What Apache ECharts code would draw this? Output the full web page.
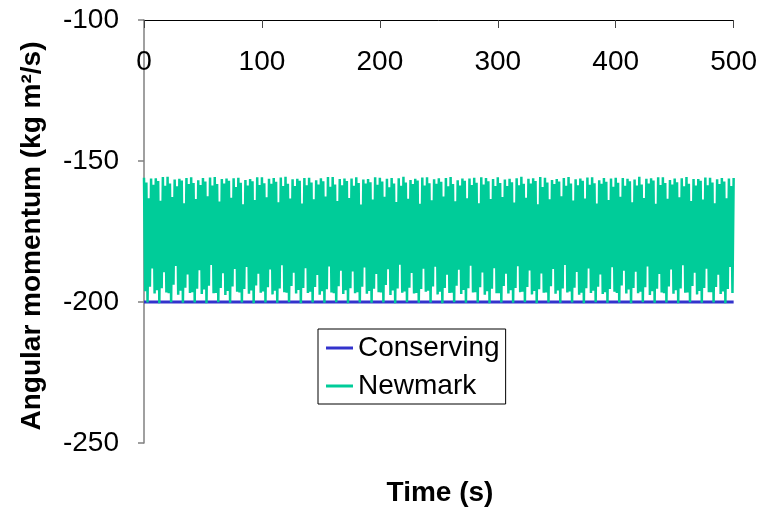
<!DOCTYPE html>
<html>
<head>
<meta charset="utf-8">
<script src="https://cdn.jsdelivr.net/npm/echarts@6/dist/echarts.min.js"></script>
<style>
  html, body { margin: 0; padding: 0; background: #fff; }
  #chart { width: 760px; height: 507px; }
</style>
</head>
<body>
<div id="chart"></div>
<script>
// Angular momentum history of the two integrators, one sample per second.
const xTicks = [0, 100, 200, 300, 400, 500];
const yTicks = [-100, -150, -200, -250];
const seriesNames = ['Conserving', 'Newmark'];

const conservingTime = [0, 500];
const conservingValues = [-200, -200];

const newmarkStep = 1; // seconds between samples
const newmarkValues = [
  -155.9,-196.2,-157.6,-200.2,-163.2,-194.6,-156.2,-188.1,-158.4,-197.0,
  -156.1,-195.8,-157.1,-200.4,-164.1,-195.1,-155.7,-189.4,-158.8,-196.6,
  -155.6,-196.9,-158.0,-200.1,-162.8,-193.9,-156.6,-187.2,-159.0,-197.4,
  -156.3,-196.0,-156.9,-200.3,-165.0,-194.9,-156.0,-190.2,-158.2,-196.8,
  -155.8,-196.5,-157.8,-200.2,-163.5,-195.3,-156.8,-188.7,-158.5,-197.2,
  -156.0,-195.6,-157.3,-200.4,-162.5,-194.2,-155.9,-186.9,-158.7,-196.9,
  -155.7,-196.8,-158.2,-200.1,-164.4,-195.0,-156.4,-189.8,-158.0,-197.5,
  -156.2,-196.1,-157.0,-200.3,-163.0,-194.5,-156.1,-188.3,-159.2,-196.4,
  -155.9,-196.6,-157.7,-200.2,-165.3,-195.4,-156.7,-187.6,-158.7,-197.1,
  -156.4,-195.9,-157.2,-200.4,-163.8,-194.1,-155.8,-190.0,-158.5,-196.7,
  -155.8,-196.3,-157.9,-200.2,-162.9,-194.8,-156.3,-188.5,-158.1,-197.3,
  -156.0,-196.0,-157.4,-200.3,-164.6,-195.2,-155.9,-187.0,-158.9,-196.5,
  -155.6,-196.7,-158.1,-200.1,-163.3,-194.3,-156.5,-189.6,-158.9,-197.0,
  -156.3,-195.7,-157.0,-200.4,-165.1,-195.0,-156.0,-188.0,-158.6,-196.8,
  -155.9,-196.4,-157.6,-200.2,-163.6,-194.7,-156.8,-190.4,-158.3,-197.4,
  -156.1,-196.2,-157.2,-200.3,-162.6,-195.5,-155.7,-187.4,-159.1,-196.6,
  -155.7,-196.9,-158.3,-200.1,-164.2,-194.4,-156.4,-188.9,-158.6,-197.2,
  -156.2,-195.8,-157.1,-200.4,-163.1,-195.1,-156.2,-189.2,-158.8,-196.9,
  -155.8,-196.5,-157.8,-200.2,-165.4,-194.6,-156.6,-187.8,-158.0,-197.1,
  -156.4,-196.1,-157.5,-200.3,-163.7,-195.3,-155.8,-190.1,-158.4,-196.5,
  -155.9,-196.6,-157.3,-200.2,-162.7,-194.0,-156.3,-188.4,-159.3,-197.5,
  -156.0,-195.9,-158.0,-200.4,-164.5,-195.2,-156.1,-186.8,-158.8,-196.7,
  -155.6,-196.3,-157.6,-200.1,-163.4,-194.9,-156.7,-189.7,-158.2,-197.0,
  -156.3,-196.8,-156.9,-200.3,-165.2,-195.4,-155.9,-188.2,-158.7,-196.4,
  -155.8,-196.0,-157.9,-200.2,-163.9,-194.5,-156.5,-187.5,-158.1,-197.3,
  -156.1,-196.4,-157.4,-200.4,-162.6,-195.0,-156.0,-190.3,-159.0,-196.8,
  -155.7,-196.7,-158.2,-200.1,-164.3,-194.2,-156.8,-188.6,-158.7,-197.2,
  -156.2,-195.7,-157.0,-200.3,-163.2,-195.1,-156.2,-187.1,-158.5,-196.6,
  -155.9,-196.5,-157.7,-200.2,-165.0,-194.8,-155.8,-189.5,-158.3,-197.4,
  -156.0,-196.2,-157.2,-200.4,-163.5,-195.3,-156.4,-188.0,-158.9,-196.9,
  -155.8,-196.9,-157.8,-200.2,-162.8,-194.3,-156.6,-190.0,-158.9,-197.0,
  -156.3,-195.8,-157.5,-200.3,-164.7,-195.0,-156.1,-187.3,-158.6,-196.5,
  -155.6,-196.4,-158.1,-200.1,-163.0,-194.7,-156.3,-188.8,-158.0,-197.3,
  -156.1,-196.1,-157.1,-200.4,-165.3,-195.5,-155.7,-189.9,-159.2,-196.7,
  -155.9,-196.6,-157.6,-200.2,-163.6,-194.4,-156.7,-188.3,-158.2,-197.1,
  -156.4,-195.9,-157.3,-200.3,-162.5,-195.2,-156.0,-186.9,-158.8,-196.6,
  -155.7,-196.3,-158.0,-200.2,-164.0,-194.9,-156.5,-189.4,-158.6,-197.4,
  -156.2,-196.7,-157.0,-200.4,-163.3,-195.1,-155.9,-188.1,-158.4,-196.8,
  -155.8,-196.0,-157.9,-200.1,-165.1,-194.6,-156.8,-190.2,-158.1,-197.2,
  -156.0,-196.5,-157.4,-200.3,-163.8,-195.4,-156.2,-187.7,-159.1,-196.4,
  -155.9,-196.8,-157.7,-200.2,-162.7,-194.1,-156.0,-188.9,-158.8,-197.0,
  -156.3,-195.6,-157.2,-200.4,-164.6,-195.0,-156.6,-189.3,-158.7,-196.9,
  -155.6,-196.4,-158.3,-200.1,-163.1,-194.8,-156.3,-187.4,-158.0,-197.5,
  -156.1,-196.2,-156.9,-200.3,-165.2,-195.3,-155.8,-190.1,-158.5,-196.6,
  -155.8,-196.9,-157.8,-200.2,-163.4,-194.5,-156.7,-188.5,-158.3,-197.1,
  -156.2,-195.8,-157.5,-200.4,-162.9,-195.2,-156.1,-187.0,-159.0,-196.7,
  -155.7,-196.6,-158.1,-200.1,-164.2,-194.3,-156.4,-189.6,-158.7,-197.3,
  -156.4,-196.1,-157.0,-200.3,-163.7,-195.0,-155.9,-188.2,-158.6,-196.5,
  -155.9,-196.5,-157.6,-200.2,-165.0,-194.7,-156.5,-190.3,-158.2,-197.2,
  -156.0,-196.3,-157.3,-200.4,-163.2,-195.4,-156.2,-187.6,-158.9,-196.8,
  -156.0
];

const font = "'Liberation Sans', Arial, sans-serif";
const conservingData = conservingTime.map((t, i) => [t, conservingValues[i]]);
const newmarkData = newmarkValues.map((v, i) => [i * newmarkStep, v]);

const chart = echarts.init(document.getElementById('chart'), null, { renderer: 'canvas' });

chart.setOption({
  animation: false,
  backgroundColor: '#ffffff',
  grid: { left: 144, right: 25, top: 20, bottom: 64, containLabel: false },
  xAxis: {
    type: 'value',
    position: 'top',
    min: xTicks[0],
    max: xTicks[xTicks.length - 1],
    interval: xTicks[1] - xTicks[0],
    axisLine: { onZero: false, lineStyle: { color: '#000', width: 1 } },
    axisTick: { inside: true, length: 8, lineStyle: { color: '#444' } },
    axisLabel: { inside: true, margin: 28, color: '#000', fontSize: 28, fontFamily: font },
    splitLine: { show: false }
  },
  yAxis: {
    type: 'value',
    min: yTicks[yTicks.length - 1],
    max: yTicks[0],
    interval: yTicks[0] - yTicks[1],
    axisLine: { onZero: false, lineStyle: { color: '#808080', width: 1.5 } },
    axisTick: { length: 6, lineStyle: { color: '#808080', width: 1.5 } },
    axisLabel: { margin: 25, color: '#000', fontSize: 28, fontFamily: font },
    splitLine: { show: false }
  },
  legend: {
    orient: 'vertical',
    left: 318,
    top: 329,
    data: seriesNames,
    icon: 'rect',
    itemWidth: 27,
    itemHeight: 3,
    itemGap: 10,
    padding: [5, 6, 4, 8],
    borderColor: '#000',
    borderWidth: 1,
    backgroundColor: '#fff',
    textStyle: { color: '#000', fontSize: 28, fontFamily: font }
  },
  graphic: [
    {
      type: 'text',
      x: 440, y: 493,
      style: {
        text: 'Time (s)', fill: '#000', font: 'bold 28px ' + font,
        textAlign: 'center', textVerticalAlign: 'middle'
      }
    },
    {
      type: 'text',
      x: 32, y: 236,
      rotation: Math.PI / 2,
      style: {
        text: 'Angular momentum (kg m²/s)', fill: '#000', font: 'bold 28px ' + font,
        textAlign: 'center', textVerticalAlign: 'middle'
      }
    }
  ],
  series: [
    {
      name: seriesNames[0],
      type: 'line',
      data: conservingData,
      showSymbol: false,
      lineStyle: { color: '#3333CC', width: 3 },
      itemStyle: { color: '#3333CC' }
    },
    {
      name: seriesNames[1],
      type: 'line',
      data: newmarkData,
      showSymbol: false,
      lineStyle: { color: '#00CC99', width: 2.5 },
      itemStyle: { color: '#00CC99' }
    }
  ]
});
</script>
</body>
</html>
